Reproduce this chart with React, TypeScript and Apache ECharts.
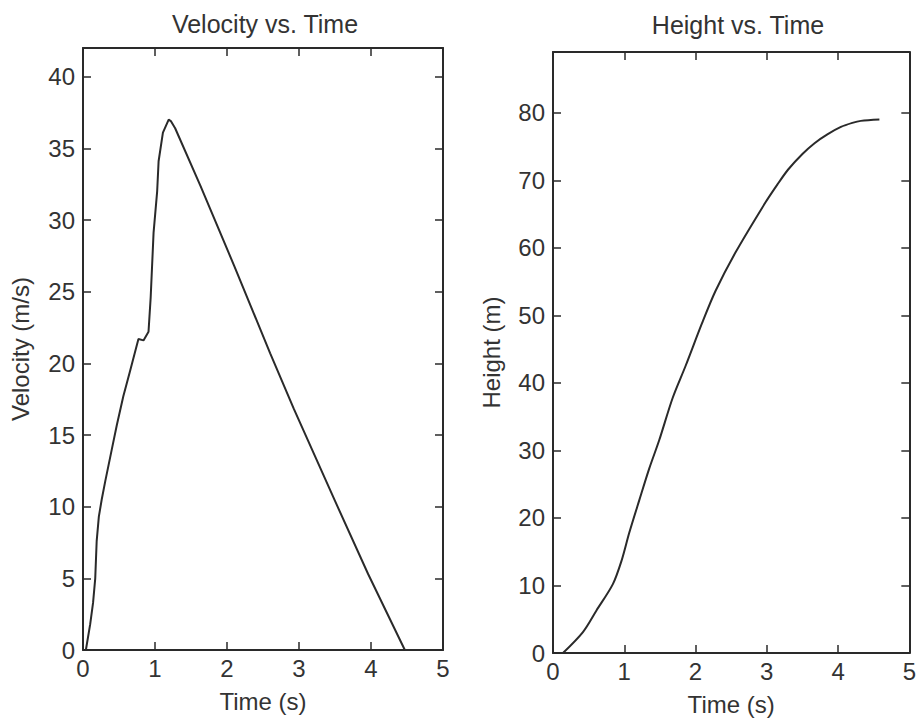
import React, { useEffect, useRef } from "react";
import * as echarts from "echarts";

// Velocity vs. Time
const velTime = [0.04, 0.1, 0.14, 0.17, 0.19, 0.22, 0.26, 0.31, 0.4, 0.47, 0.56, 0.65, 0.77, 0.84, 0.91, 0.94, 0.98, 1.03, 1.05, 1.11, 1.19, 1.22, 1.28, 1.63, 2.1, 2.6, 2.93, 3.5, 3.96, 4.47];
const velValues = [0, 1.8, 3.3, 5.0, 7.6, 9.3, 10.5, 11.8, 14.0, 15.7, 17.7, 19.4, 21.7, 21.6, 22.2, 24.6, 29.1, 32.0, 34.1, 36.1, 37.0, 36.9, 36.4, 32.4, 26.8, 20.7, 16.8, 10.4, 5.3, 0];

// Height vs. Time
const hTime = [0.14, 0.42, 0.61, 0.84, 0.96, 1.07, 1.21, 1.35, 1.49, 1.68, 1.86, 2.09, 2.28, 2.56, 2.98, 3.15, 3.3, 3.5, 3.67, 3.85, 4.04, 4.2, 4.32, 4.58];
const hValues = [0, 3.1, 6.3, 10.2, 13.6, 17.8, 22.6, 27.3, 31.5, 37.8, 42.5, 48.8, 53.6, 59.3, 66.7, 69.4, 71.6, 73.9, 75.5, 76.8, 77.9, 78.5, 78.8, 79.0];

const xTickMax = 5;
const velMax = 42;
const hMax = 89;

const FONT = "'Liberation Sans', Arial, Helvetica, sans-serif";
const TEXT = "#333";
const LINE = "#2a2a2a";

function zip(a: number[], b: number[]) {
  return a.map((v, i) => [v, b[i]]);
}

export default function App() {
  const ref = useRef<HTMLDivElement>(null);
  useEffect(() => {
    if (!ref.current) return;
    const chart = echarts.init(ref.current, null, { renderer: "svg" });
    const axisLine = { show: true, onZero: false, lineStyle: { color: LINE, width: 2 } };
    const tick = { show: true, inside: true, length: 8, lineStyle: { color: LINE, width: 1.5 } };
    const lbl = { color: TEXT, fontSize: 24, fontFamily: FONT };
    const nameStyle = { color: TEXT, fontSize: 24, fontFamily: FONT };

    const mkX = (gi: number, pos: "bottom" | "top", main: boolean) => ({
      type: "value",
      gridIndex: gi,
      position: pos,
      min: 0,
      max: xTickMax,
      interval: 1,
      axisLine,
      axisTick: tick,
      splitLine: { show: false },
      axisLabel: main ? { ...lbl, margin: 6 } : { show: false },
      name: main ? "Time (s)" : "",
      nameLocation: "middle",
      nameGap: 39,
      nameTextStyle: nameStyle,
    });
    const mkY = (gi: number, pos: "left" | "right", main: boolean, max: number, interval: number, name: string, gap: number) => ({
      type: "value",
      gridIndex: gi,
      position: pos,
      min: 0,
      max,
      interval,
      axisLine,
      axisTick: tick,
      splitLine: { show: false },
      axisLabel: main ? { ...lbl, margin: 8, showMaxLabel: false } : { show: false },
      name: main ? name : "",
      nameLocation: "middle",
      nameGap: gap,
      nameTextStyle: nameStyle,
    });

    chart.setOption({
      animation: false,
      backgroundColor: "#fff",
      title: [
        { text: "Velocity vs. Time", left: 260, top: 6, textAlign: "center", textStyle: { color: TEXT, fontSize: 25, fontWeight: "normal", fontFamily: FONT } },
        { text: "Height vs. Time", left: 733, top: 7, textAlign: "center", textStyle: { color: TEXT, fontSize: 25, fontWeight: "normal", fontFamily: FONT } },
      ],
      grid: [
        { left: 83, top: 48, width: 360, height: 602 },
        { left: 553, top: 52, width: 360, height: 601 },
      ],
      xAxis: [mkX(0, "bottom", true), mkX(0, "top", false), mkX(1, "bottom", true), mkX(1, "top", false)],
      yAxis: [
        mkY(0, "left", true, velMax, 5, "Velocity (m/s)", 51),
        mkY(0, "right", false, velMax, 5, "", 0),
        mkY(1, "left", true, hMax, 10, "Height (m)", 50),
        mkY(1, "right", false, hMax, 10, "", 0),
      ],
      series: [
        {
          type: "line",
          xAxisIndex: 0,
          yAxisIndex: 0,
          data: zip(velTime, velValues),
          showSymbol: false,
          lineStyle: { color: LINE, width: 2 },
        },
        {
          type: "line",
          xAxisIndex: 2,
          yAxisIndex: 2,
          data: zip(hTime, hValues),
          showSymbol: false,
          smooth: 0.3,
          lineStyle: { color: LINE, width: 2 },
        },
      ],
    });
    return () => chart.dispose();
  }, []);
  return <div ref={ref} style={{ position: "fixed", left: 0, top: 0, width: 919, height: 723 }} />;
}
